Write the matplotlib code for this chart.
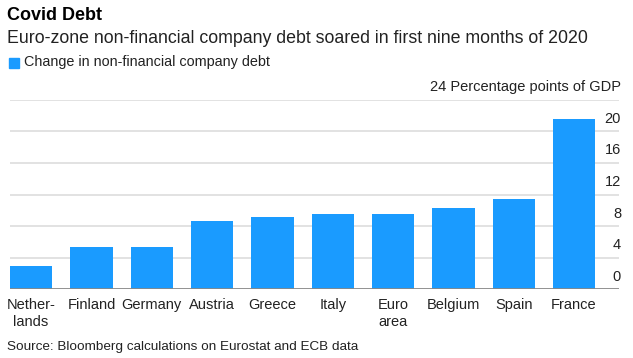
import matplotlib
matplotlib.use("Agg")
import matplotlib.pyplot as plt
from matplotlib.patches import Rectangle
from matplotlib.transforms import offset_copy

categories = ["Nether-\nlands", "Finland", "Germany", "Austria", "Greece",
              "Italy", "Euro\narea", "Belgium", "Spain", "France"]
values = [3.0, 5.4, 5.4, 8.6, 9.1, 9.5, 9.5, 10.25, 11.4, 21.6]
yticks = [0, 4, 8, 12, 16, 20, 24]
ytick_labels = ["0", "4", "8", "12", "16", "20", "24 Percentage points of GDP"]

title = "Covid Debt"
subtitle = "Euro-zone non-financial company debt soared in first nine months of 2020"
legend_label = "Change in non-financial company debt"
source = "Source: Bloomberg calculations on Eurostat and ECB data"

BLUE = "#1a9bff"
plt.rcParams['font.family'] = ['Liberation Sans', 'DejaVu Sans']

W, H = 633, 358
fig = plt.figure(figsize=(W / 100, H / 100), dpi=100)
ax = fig.add_axes([10 / W, 1 - 289.3 / H, 609 / W, (289.3 - 99.7) / H])

x = list(range(len(categories)))
ax.bar(x, values, width=0.7, color=BLUE, zorder=2)
ax.set_xlim(-0.35, 9.745)
ax.set_ylim(0, 24)
for t in yticks[1:]:
    ax.axhline(t, color='#dddddd', lw=1.2, zorder=1)
ax.axhline(0, color='#888888', lw=2, zorder=3)

ax.set_xticks(x)
ax.set_xticklabels(categories, fontsize=10.5, linespacing=1.35, color='#222222')
ax.tick_params(axis='x', length=0, pad=6)
ax.set_yticks([])
for sp in ax.spines.values():
    sp.set_visible(False)

trans = offset_copy(ax.get_yaxis_transform(), fig=fig, x=1.5, y=4, units='points')
for t, l in zip(yticks, ytick_labels):
    ax.text(1.0, t, l, transform=trans, ha='right', va='bottom',
            fontsize=10.5, color='#222222')

fig.text(7 / W, 1 - 16 / H, title, fontsize=13, fontweight='bold', va='center', color='#000000')
fig.text(7 / W, 1 - 38.5 / H, subtitle, fontsize=12.75, va='center', color='#222222')
fig.patches.append(Rectangle((9 / W, 1 - 68 / H), 10 / W, 10 / H,
                             transform=fig.transFigure, color=BLUE, figure=fig))
fig.text(24 / W, 1 - 62 / H, legend_label, fontsize=10.4, va='center', color='#222222')
fig.text(7 / W, 1 - 347 / H, source, fontsize=9.7, va='center', color='#222222')

fig.savefig("out.png", dpi=100)
